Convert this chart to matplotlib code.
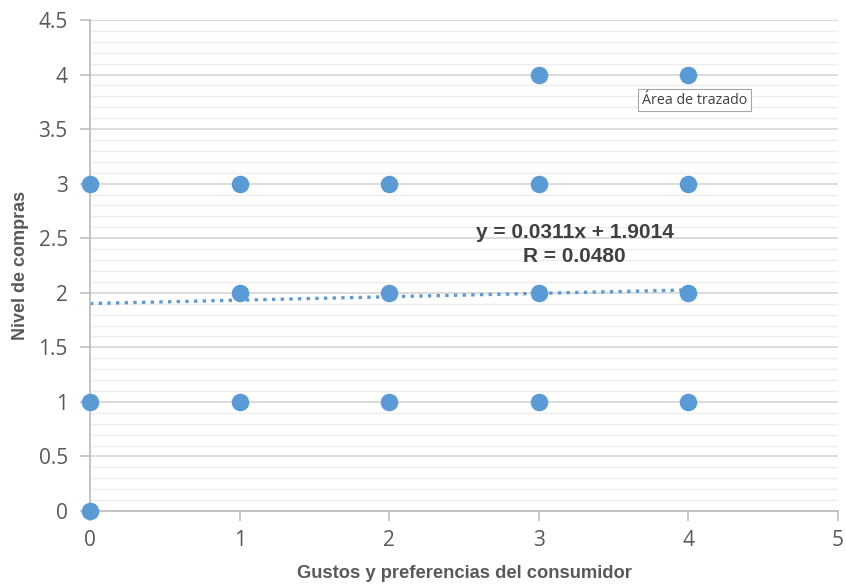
import numpy as np
import matplotlib
matplotlib.use("Agg")
import matplotlib.pyplot as plt
from matplotlib.ticker import MultipleLocator

# Data
gustos = [0, 0, 0, 1, 1, 1, 2, 2, 2, 3, 3, 3, 3, 4, 4, 4, 4]
compras = [3, 1, 0, 3, 2, 1, 3, 2, 1, 4, 3, 2, 1, 4, 3, 2, 1]
slope = 0.0311
intercept = 1.9014
r_value = 0.0480
trend_range = [0, 4]

x_label = "Gustos y preferencias del consumidor"
y_label = "Nivel de compras"
tooltip = "Área de trazado"

blue = "#5B9BD5"
gray_txt = "#595959"

fig = plt.figure(figsize=(8.46, 5.87), dpi=100)
ax = fig.add_axes([90/846, 1-511/587, (838-90)/846, (511-20)/587])

ax.set_xlim(0, 5)
ax.set_ylim(0, 4.5)
ax.xaxis.set_major_locator(MultipleLocator(1))
ax.yaxis.set_major_locator(MultipleLocator(0.5))
ax.yaxis.set_minor_locator(MultipleLocator(0.1))

ax.grid(axis="y", which="major", color="#D9D9D9", linewidth=1.3, zorder=0)
ax.grid(axis="y", which="minor", color="#EDEDED", linewidth=1.0, zorder=0)
ax.set_axisbelow(True)

for s in ["top", "right"]:
    ax.spines[s].set_visible(False)
for s in ["left", "bottom"]:
    ax.spines[s].set_color("#BFBFBF")
    ax.spines[s].set_linewidth(1.3)

ax.tick_params(axis="both", which="major", colors="#BFBFBF", labelcolor=gray_txt,
               labelsize=15, length=7, width=1.2)
ax.tick_params(axis="y", which="minor", length=0)
ax.tick_params(axis="x", pad=7)
ax.tick_params(axis="y", pad=9)
for lbl in ax.get_xticklabels() + ax.get_yticklabels():
    lbl.set_family(["Open Sans", "DejaVu Sans"])

def fmt(v, pos):
    return ("%g" % v)
ax.yaxis.set_major_formatter(matplotlib.ticker.FuncFormatter(fmt))

# trend line
tx = np.array(trend_range, dtype=float)
ax.plot(tx, slope*tx + intercept, linestyle=(0, (1, 1.6)), color=blue, linewidth=2.4,
        zorder=2, clip_on=False)

ax.scatter(gustos, compras, s=160, color=blue, zorder=3, clip_on=False, linewidths=0)

ax.text(3.24, 2.555, "y = %.4fx + %.4f" % (slope, intercept), ha="center", va="center",
        fontsize=15, fontweight="bold", color="#404040", family=["Liberation Sans"])
ax.text(3.24, 2.335, "R = %.4f" % r_value, ha="center", va="center",
        fontsize=15, fontweight="bold", color="#404040", family=["Liberation Sans"])

ax.text(4.04, 3.765, tooltip, ha="center", va="center", fontsize=10.3, color="#404040",
        family=["Open Sans", "DejaVu Sans"],
        bbox=dict(boxstyle="square,pad=0.25", facecolor="white", edgecolor="#A6A6A6", linewidth=0.8))

ax.set_xlabel(x_label, fontsize=13.2, fontweight="bold", color=gray_txt,
              family=["Liberation Sans"], labelpad=10)
ax.set_ylabel(y_label, fontsize=13, fontweight="bold", color=gray_txt,
              family=["Liberation Sans"], labelpad=7)

fig.savefig("out.png", dpi=100)
